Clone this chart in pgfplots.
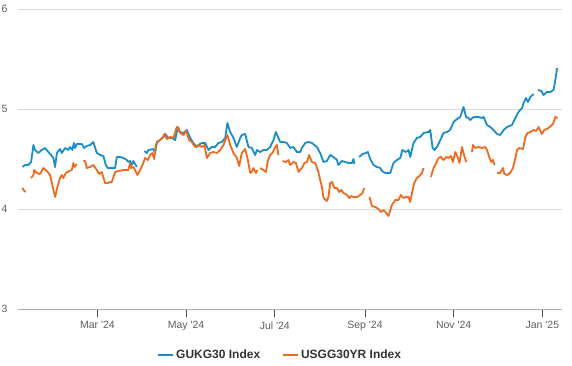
\documentclass[border=0pt]{standalone}
\usepackage{pgfplots}
\pgfplotsset{compat=1.18}
\usepackage{fontspec}
\setmainfont{Liberation Sans}
\definecolor{ukblue}{HTML}{1A8DC8}
\definecolor{usorange}{HTML}{EE6A1E}
\definecolor{gridgray}{HTML}{DADADA}
\definecolor{ticktext}{HTML}{5F5F5F}
\definecolor{legtext}{HTML}{333333}
\begin{document}
\begin{tikzpicture}
\path[use as bounding box] (-18pt,-57pt) rectangle (554pt,309pt);
\begin{axis}[
  at={(0pt,0pt)}, anchor=south west,
  scale only axis, width=544pt, height=300pt,
  xmin=5.4, xmax=379.5, ymin=3, ymax=6,
  ytick={3,4,5,6},
  xtick={60,121,182,244,305,366},
  xticklabels={Mar \textquotesingle24, May \textquotesingle24, Jul \textquotesingle24, Sep \textquotesingle24, Nov \textquotesingle24, Jan \textquotesingle25},
  /pgf/number format/assume math mode=true,
  ymajorgrids, grid style={gridgray, line width=0.8pt},
  axis lines*=left, separate axis lines,
  x axis line style={gridgray!80!black, line width=0.8pt, -},
  y axis line style={draw=none},
  tick align=outside,
  xtick style={draw=black!70, line width=0.7pt},
  ytick style={draw=none},
  major tick length=8pt,
  tick label style={font=\fontsize{10.5}{12}\selectfont, text=ticktext},
  xticklabel style={yshift=-1pt},
  yticklabel style={xshift=1pt},
  unbounded coords=jump,
  legend style={at={(0.482,-0.153)}, anchor=center, draw=none, fill=none,
    font=\fontsize{12}{14}\selectfont\bfseries, text=legtext,
    /tikz/every even column/.append style={column sep=20pt}},
  legend columns=2,
  legend image code/.code={\draw[line width=1.8pt] (-2pt,0pt) -- (13pt,0pt);},
]
\addplot[ukblue, line width=1.8pt, line join=round] coordinates {
(8.4,4.42)(10.3,4.44)(12.5,4.44)(14.4,4.47)(16.0,4.64)(17.1,4.59)(19.4,4.56)(21.7,4.59)(24.0,4.61)(26.3,4.57)(28.1,4.54)(29.7,4.51)(30.9,4.42)(32.1,4.56)(34.3,4.60)(35.5,4.56)(37.8,4.61)(40.0,4.59)(41.2,4.62)(42.8,4.59)(43.8,4.66)(44.7,4.61)(45.8,4.65)(48.1,4.65)(49.3,4.65)(50.8,4.61)(52.7,4.63)(55.0,4.64)(57.2,4.67)(59.6,4.56)(61.9,4.54)(64.1,4.53)(65.8,4.44)(67.1,4.41)(68.7,4.41)(72.2,4.41)(73.3,4.52)(75.6,4.52)(77.9,4.51)(80.2,4.49)(81.3,4.47)(82.5,4.48)(83.7,4.44)(84.8,4.48)(87.1,4.42)
(89.5,nan)
(92.3,4.58)(94.0,4.56)(95.1,4.59)(98.5,4.60)(99.7,4.56)(100.9,4.67)(103.1,4.69)(105.4,4.72)(106.6,4.75)(108.8,4.71)(111.2,4.71)(113.5,4.69)(115.3,4.82)(116.9,4.77)(119.2,4.76)(121.5,4.79)(123.8,4.71)(126.0,4.66)(128.4,4.62)(129.5,4.64)(131.8,4.66)(134.1,4.66)(136.4,4.59)(138.7,4.62)(141.0,4.62)(143.2,4.66)(145.6,4.67)(147.9,4.71)(149.4,4.86)(151.3,4.77)(153.6,4.71)(155.9,4.62)(158.2,4.71)(159.3,4.74)(161.6,4.75)(163.9,4.62)(166.2,4.61)(168.5,4.54)(169.7,4.59)(171.9,4.57)(174.2,4.59)(176.5,4.59)(178.8,4.62)(181.1,4.69)(182.7,4.77)(184.5,4.71)(185.7,4.67)(188.0,4.67)(190.3,4.66)(192.6,4.61)(194.8,4.62)(197.2,4.57)(199.5,4.57)(200.6,4.61)(202.9,4.66)(205.2,4.67)(207.5,4.66)(210.9,4.62)(213.2,4.56)(215.5,4.47)(217.8,4.48)(220.1,4.54)(222.4,4.52)(224.7,4.49)(225.8,4.44)(228.1,4.48)(230.4,4.47)(232.7,4.46)(235.0,4.46)(236.1,4.50)(236.6,4.45)
(238.3,nan)
(240.0,4.52)(242.3,4.55)(244.7,4.56)(246.0,4.57)(247.6,4.50)(249.9,4.44)(252.2,4.42)(254.5,4.41)(255.7,4.38)(257.9,4.36)(261.4,4.36)(263.6,4.46)(266.0,4.49)(268.2,4.51)(269.8,4.59)(272.2,4.57)(274.0,4.59)(275.1,4.52)(277.4,4.66)(279.7,4.71)(282.0,4.72)(284.3,4.76)(287.7,4.77)(288.9,4.79)(290.5,4.61)(291.8,4.59)(293.5,4.62)(295.8,4.69)(298.0,4.76)(300.4,4.77)(302.6,4.79)(304.9,4.87)(307.3,4.90)(309.5,4.92)(311.8,5.02)(313.5,4.92)(315.2,4.91)(316.4,4.89)(318.7,4.92)(322.1,4.92)(324.5,4.91)(325.6,4.92)(327.9,4.84)(330.2,4.82)(332.4,4.79)(334.8,4.75)(337.0,4.74)(339.3,4.79)(341.7,4.82)(345.1,4.84)(347.4,4.91)(349.6,4.97)(352.0,5.01)(353.1,5.06)(354.7,5.11)(356.1,5.07)(357.7,5.12)(360.0,5.15)
(361.5,nan)
(363.0,5.19)(365.3,5.18)(366.8,5.14)(369.2,5.17)(371.5,5.17)(373.7,5.19)(374.9,5.29)(376.1,5.41)
};
\addlegendentry{GUKG30 Index}
\addplot[usorange, line width=1.8pt, line join=round] coordinates {
(8.4,4.21)(9.8,4.18)(10.7,4.17)
(12.5,nan)
(14.4,4.31)(16.0,4.34)(16.6,4.39)(18.3,4.36)(20.6,4.35)(22.8,4.41)(25.2,4.38)(27.5,4.34)(29.0,4.24)(30.9,4.12)(32.5,4.22)(34.3,4.31)(35.5,4.34)(36.6,4.31)(38.3,4.36)(40.5,4.38)(42.4,4.39)(43.5,4.46)(44.2,4.42)(45.8,4.45)
(48.0,nan)
(50.4,4.48)(51.5,4.48)(52.7,4.41)(55.0,4.42)(57.2,4.44)(59.6,4.39)(61.2,4.35)(63.0,4.37)(65.3,4.26)(67.1,4.26)(68.7,4.27)(69.9,4.27)(72.2,4.37)(74.4,4.38)(77.9,4.39)(80.2,4.39)(81.3,4.39)(82.5,4.46)(83.2,4.41)(84.8,4.42)(85.9,4.39)(87.5,4.34)(89.4,4.39)(91.0,4.44)(92.8,4.51)(94.7,4.49)(96.3,4.54)(97.8,4.56)(99.0,4.50)(100.2,4.64)(101.5,4.67)(103.1,4.69)(104.7,4.71)(106.1,4.75)(107.7,4.70)(110.0,4.72)(112.3,4.71)(114.6,4.82)(116.9,4.76)(119.2,4.74)(121.0,4.78)(123.1,4.69)(124.9,4.67)(127.2,4.62)(129.5,4.64)(131.8,4.62)(133.6,4.64)(135.3,4.51)(137.5,4.56)(139.8,4.57)(142.1,4.56)(144.4,4.59)(146.7,4.64)(149.4,4.74)(151.3,4.64)(153.6,4.56)(155.9,4.51)(157.5,4.43)(159.3,4.56)(161.6,4.60)(163.2,4.51)(165.1,4.36)(166.2,4.37)(167.3,4.41)(169.0,4.36)(170.1,4.39)
(171.0,nan)
(171.9,4.41)(174.2,4.39)(175.9,4.37)(177.2,4.48)(178.8,4.54)(180.4,4.56)(182.3,4.62)(183.4,4.64)(184.5,4.54)
(186.0,nan)
(187.3,4.48)(189.6,4.47)(191.4,4.49)(192.6,4.44)(194.8,4.47)(196.5,4.46)(198.3,4.37)(200.6,4.41)(202.4,4.46)(204.1,4.47)(205.6,4.54)(207.5,4.47)(209.8,4.46)(212.0,4.37)(213.2,4.29)(214.4,4.22)(215.5,4.11)(217.8,4.08)(218.9,4.12)(220.1,4.26)(221.3,4.27)(223.0,4.21)(224.7,4.21)(226.3,4.17)(227.7,4.19)(229.2,4.16)(231.6,4.14)(233.2,4.11)(234.5,4.13)(236.1,4.12)(238.5,4.12)(240.7,4.14)(242.3,4.16)(243.5,4.21)
(245.0,nan)
(247.1,4.12)(248.8,4.03)(251.1,4.02)(253.3,4.00)(255.0,3.97)(256.8,3.99)(258.6,3.96)(260.2,3.93)(262.5,4.04)(264.8,4.09)(267.1,4.09)(268.7,4.14)(270.5,4.11)(272.4,4.12)(274.0,4.12)(275.1,4.07)(276.3,4.16)(277.9,4.26)(279.7,4.31)(281.5,4.33)(283.2,4.36)(284.3,4.41)
(287.0,nan)
(289.4,4.32)(290.1,4.36)(291.2,4.41)(293.0,4.46)(294.6,4.51)(296.3,4.52)(298.0,4.49)(299.9,4.52)(301.5,4.51)(303.1,4.53)(304.5,4.47)(306.1,4.57)(307.7,4.52)(309.0,4.46)(310.7,4.62)(312.3,4.53)(313.7,4.47)
(315.5,nan)
(317.6,4.57)(318.3,4.64)(319.9,4.61)(322.1,4.62)(324.5,4.61)(326.7,4.62)(327.9,4.59)(329.7,4.51)(330.9,4.47)(332.0,4.49)(333.1,4.44)
(334.0,nan)
(334.8,4.36)(337.0,4.36)(338.9,4.41)(339.8,4.35)(341.7,4.34)(343.9,4.36)(345.8,4.41)(347.4,4.51)(348.6,4.59)(350.3,4.61)(352.7,4.60)(354.3,4.72)(355.8,4.76)(357.7,4.77)(360.0,4.79)(361.8,4.78)(363.4,4.82)(365.7,4.75)(367.3,4.79)(369.2,4.80)(371.0,4.82)(373.3,4.85)(374.9,4.92)(376.5,4.91)
};
\addlegendentry{USGG30YR Index}
\end{axis}
\end{tikzpicture}
\end{document}
